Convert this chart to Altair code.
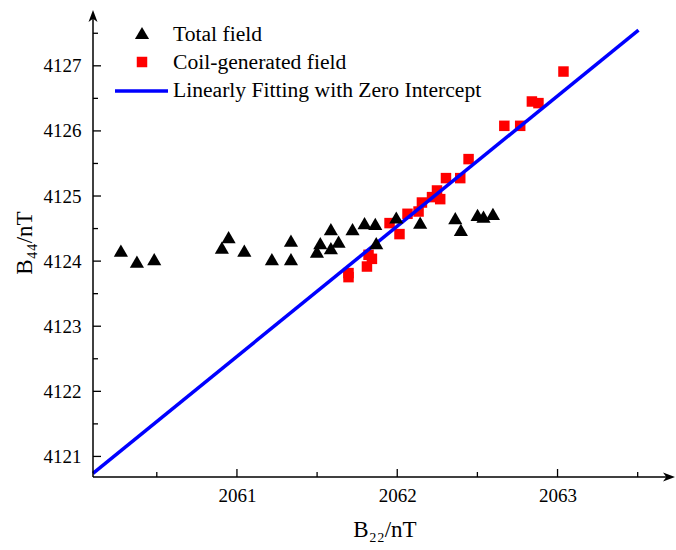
import altair as alt
import pandas as pd

# Total field (B22, B44) in nT
total_x = [2060.276, 2060.376, 2060.484, 2060.948, 2060.906, 2061.046, 2061.218,
           2061.337, 2061.337, 2061.520, 2061.499, 2061.586, 2061.586, 2061.634,
           2061.721, 2061.796, 2061.863, 2061.869, 2061.994, 2062.143, 2062.362,
           2062.397, 2062.501, 2062.538, 2062.597]
total_y = [4124.163, 4123.994, 4124.031, 4124.369, 4124.209, 4124.163, 4124.031,
           4124.316, 4124.031, 4124.276, 4124.147, 4124.490, 4124.200, 4124.300,
           4124.490, 4124.584, 4124.573, 4124.276, 4124.670, 4124.593, 4124.660,
           4124.480, 4124.711, 4124.685, 4124.727]

# Coil-generated field (B22, B44) in nT
coil_x = [2061.696, 2061.696, 2061.811, 2061.842, 2061.821, 2062.014, 2061.952,
          2062.064, 2062.133, 2062.154, 2062.268, 2062.217, 2062.248, 2062.393,
          2062.304, 2062.445, 2062.668, 2062.767, 2062.840, 2062.881, 2063.037]
coil_y = [4123.754, 4123.816, 4123.917, 4124.035, 4124.097, 4124.415, 4124.584,
          4124.727, 4124.762, 4124.900, 4124.952, 4124.983, 4125.085, 4125.275,
          4125.275, 4125.567, 4126.078, 4126.078, 4126.452, 4126.427, 4126.912]

# Zero-intercept fit: B44 = k * B22
slope = 2.00026
fit_x = [2060.102, 2063.505]

x_major = [2061, 2062, 2063]
x_minor = [2060.5, 2061.5, 2062.5, 2063.5]
y_major = [4121, 4122, 4123, 4124, 4125, 4126, 4127]
y_minor = [4121.5, 4122.5, 4123.5, 4124.5, 4125.5, 4126.5, 4127.5]

X_DOMAIN = [2060.102, 2063.739]
Y_DOMAIN = [4120.684, 4127.888]
W, H = 583, 469
FONT = "Liberation Serif"

total_df = pd.DataFrame({"x": total_x, "y": total_y})
coil_df = pd.DataFrame({"x": coil_x, "y": coil_y})
fit_df = pd.DataFrame({"x": fit_x, "y": [slope * v for v in fit_x]})

xs = alt.Scale(domain=X_DOMAIN, nice=False, zero=False)
ys = alt.Scale(domain=Y_DOMAIN, nice=False, zero=False)

x_axis = alt.Axis(values=x_major, format="d", domain=False, ticks=False, grid=False,
                  labelFont=FONT, labelFontSize=19, labelColor="black", labelPadding=9,
                  title="B₂₂/nT", titleFont=FONT, titleFontSize=23,
                  titleFontWeight="normal", titleColor="black", titlePadding=13)
y_axis = alt.Axis(values=y_major, format="d", domain=False, ticks=False, grid=False,
                  labelFont=FONT, labelFontSize=19, labelColor="black", labelPadding=12,
                  title="B₄₄/nT", titleFont=FONT, titleFontSize=23,
                  titleFontWeight="normal", titleColor="black", titlePadding=7)


def X(field="x"):
    return alt.X(f"{field}:Q", scale=xs, axis=x_axis, title="B₂₂/nT")


def Y(field="y"):
    return alt.Y(f"{field}:Q", scale=ys, axis=y_axis, title="B₄₄/nT")


coil = alt.Chart(coil_df).mark_square(size=110, color="#ff0000", opacity=1).encode(
    x=X(), y=Y())

fit = alt.Chart(fit_df).mark_line(color="#0000ff", strokeWidth=3.5).encode(
    x=X(), y=Y())

total = alt.Chart(total_df).mark_point(
    shape="triangle-up", filled=True, size=200, color="black", opacity=1
).encode(x=X(), y=Y())

# Axis lines with arrowheads
x_line = alt.Chart().mark_rule(color="black", strokeWidth=1.5).encode(
    x=alt.value(0), x2=alt.value(W - 6), y=alt.value(H))
y_line = alt.Chart().mark_rule(color="black", strokeWidth=1.5).encode(
    x=alt.value(0), y=alt.value(H), y2=alt.value(6))
x_head = alt.Chart().mark_point(
    shape="M1,0L-1,-0.75L-0.45,0L-1,0.75Z", filled=True, size=144,
    color="black", opacity=1).encode(x=alt.value(W - 7), y=alt.value(H))
y_head = alt.Chart().mark_point(
    shape="M0,-1L-0.75,1L0,0.45L0.75,1Z", filled=True, size=144,
    color="black", opacity=1).encode(x=alt.value(0), y=alt.value(8))

# Inward tick marks
xt_major = alt.Chart(pd.DataFrame({"x": x_major})).mark_rule(color="black", strokeWidth=1.3).encode(
    x=X(), y=alt.value(H), y2=alt.value(H - 8))
xt_minor = alt.Chart(pd.DataFrame({"x": x_minor})).mark_rule(color="black", strokeWidth=1.3).encode(
    x=X(), y=alt.value(H), y2=alt.value(H - 5))
yt_major = alt.Chart(pd.DataFrame({"y": y_major})).mark_rule(color="black", strokeWidth=1.3).encode(
    y=Y(), x=alt.value(0), x2=alt.value(8))
yt_minor = alt.Chart(pd.DataFrame({"y": y_minor})).mark_rule(color="black", strokeWidth=1.3).encode(
    y=Y(), x=alt.value(0), x2=alt.value(5))

# Legend
leg_tri = alt.Chart().mark_point(shape="triangle-up", filled=True, size=200,
                                 color="black", opacity=1).encode(
    x=alt.value(49), y=alt.value(25))
leg_sq = alt.Chart().mark_square(size=110, color="#ff0000", opacity=1).encode(
    x=alt.value(49), y=alt.value(54))
leg_line = alt.Chart().mark_rule(color="#0000ff", strokeWidth=3.5).encode(
    x=alt.value(22), x2=alt.value(75), y=alt.value(83))
legend_labels = ["Total field", "Coil-generated field", "Linearly Fitting with Zero Intercept"]
leg_text = [
    alt.Chart().mark_text(text=t, align="left", baseline="middle", font=FONT,
                          fontSize=21.6, color="black").encode(
        x=alt.value(80), y=alt.value(yp))
    for t, yp in zip(legend_labels, [27, 55, 83])
]

chart = alt.layer(
    coil, fit, total, x_line, y_line, x_head, y_head,
    xt_major, xt_minor, yt_major, yt_minor,
    leg_tri, leg_sq, leg_line, *leg_text,
).properties(
    width=W, height=H,
    autosize=alt.AutoSizeParams(type="none"),
    padding={"left": 93, "top": 8, "right": 0, "bottom": 73},
    background="white",
).configure_view(stroke=None)

chart.save("out.html", embed_options={"renderer": "svg", "actions": False})
